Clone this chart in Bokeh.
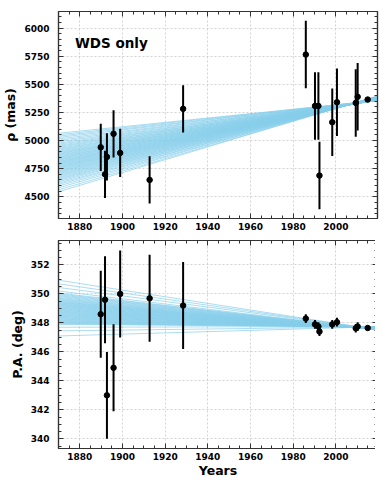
from bokeh.plotting import figure
from bokeh.layouts import column
from bokeh.models import LinearAxis, SingleIntervalTicker, Range1d, Label
from bokeh.embed import file_html
from bokeh.resources import INLINE

# ---- data ----
years = [1889.8, 1891.8, 1892.7, 1895.8, 1898.9, 1912.7, 1928.4, 1985.9,
         1990.2, 1991.8, 1992.3, 1998.3, 2000.5, 2009.3, 2010.2, 2014.9]
rho = [4940, 4700, 4855, 5060, 4890, 4650, 5282, 5765,
       5308, 5308, 4689, 5163, 5341, 5335, 5389, 5365]
rho_err = [210, 210, 210, 210, 215, 210, 210, 300,
           300, 300, 300, 300, 300, 300, 300, 15]
pa = [348.6, 349.6, 343.0, 344.9, 350.0, 349.7, 349.2, 348.3,
      347.9, 347.75, 347.4, 347.9, 348.05, 347.63, 347.75, 347.65]
pa_err = [3, 3, 3, 3, 3, 3, 3, 0.3,
          0.3, 0.3, 0.3, 0.3, 0.3, 0.3, 0.3, 0.05]

orbit_epochs = [1870, 2020]
rho_start = [4545, 4562, 4580, 4596, 4610, 4622, 4634, 4645, 4655, 4664,
             4673, 4682, 4690, 4698, 4706, 4714, 4721, 4728, 4735, 4742,
             4749, 4756, 4762, 4768, 4775, 4781, 4787, 4794, 4800, 4806,
             4812, 4818, 4825, 4831, 4838, 4844, 4851, 4857, 4864, 4871,
             4878, 4885, 4892, 4899, 4907, 4915, 4923, 4931, 4940, 4949,
             4958, 4968, 4978, 4990, 5002, 5015, 5028, 5040, 5052, 5065]
rho_end = [5400, 5396, 5398, 5392, 5395, 5389, 5393, 5386, 5390, 5384,
           5388, 5382, 5386, 5380, 5384, 5379, 5383, 5377, 5381, 5376,
           5380, 5374, 5378, 5373, 5377, 5371, 5375, 5370, 5374, 5369,
           5373, 5367, 5372, 5366, 5371, 5365, 5370, 5364, 5369, 5363,
           5368, 5362, 5367, 5361, 5366, 5360, 5365, 5359, 5364, 5358,
           5363, 5357, 5362, 5358, 5361, 5356, 5360, 5357, 5359, 5356]
pa_start = [347.1, 347.45, 347.7,
            347.9, 347.94, 347.98, 348.02, 348.06, 348.1, 348.14, 348.18, 348.22, 348.26,
            348.3, 348.34, 348.38, 348.42, 348.46, 348.5, 348.54, 348.58, 348.62, 348.66,
            348.7, 348.74, 348.78, 348.82, 348.86, 348.9, 348.94, 348.98, 349.02, 349.06,
            349.1, 349.14, 349.18, 349.22, 349.26, 349.3, 349.34, 349.38, 349.42, 349.46,
            349.5, 349.55, 349.6, 349.65, 349.7, 349.76, 349.82, 349.88, 349.94, 350.0, 350.06,
            350.2, 350.45, 350.7, 350.95]
pa_end = [347.74, 347.73, 347.75,
          347.72, 347.74, 347.71, 347.73, 347.70, 347.72, 347.69, 347.71, 347.68, 347.70,
          347.67, 347.69, 347.66, 347.68, 347.65, 347.67, 347.64, 347.66, 347.63, 347.65,
          347.62, 347.64, 347.61, 347.63, 347.60, 347.62, 347.59, 347.61, 347.58, 347.60,
          347.57, 347.59, 347.56, 347.58, 347.55, 347.57, 347.54, 347.56, 347.55, 347.57,
          347.53, 347.55, 347.54, 347.56, 347.52, 347.54, 347.53, 347.55, 347.52, 347.54, 347.53,
          347.52, 347.54, 347.53, 347.52]

FONT = "DejaVu Sans"
FRAME = "#333333"
BLUE = "#87CEEB"


def style(p, xint, xminor, yint, yminor, xlabel=None, ylabel=None):
    xa = p.below[0]
    ya = p.left[0]
    xa.ticker = SingleIntervalTicker(interval=xint, num_minor_ticks=xminor)
    ya.ticker = SingleIntervalTicker(interval=yint, num_minor_ticks=yminor)
    xa.axis_label = xlabel
    ya.axis_label = ylabel
    for ax in (xa, ya):
        ax.major_tick_in = 5
        ax.major_tick_out = 0
        ax.minor_tick_in = 3
        ax.minor_tick_out = 0
        ax.axis_line_color = FRAME
        ax.axis_line_width = 1.2
        ax.major_tick_line_color = FRAME
        ax.minor_tick_line_color = FRAME
        ax.major_label_text_font = FONT
        ax.major_label_text_font_style = "bold"
        ax.major_label_text_font_size = "9px"
        ax.major_label_text_color = "black"
        ax.axis_label_text_font = FONT
        ax.axis_label_text_font_style = "bold"
        ax.axis_label_text_font_size = "12.5px"
        ax.axis_label_text_color = "black"
    xa.major_label_standoff = 4
    ya.major_label_standoff = 9
    ya.axis_label_standoff = 3
    xa.axis_label_standoff = 0
    p.xgrid.ticker = xa.ticker
    p.ygrid.ticker = ya.ticker
    for loc, interval, nminor in (("above", xint, xminor), ("right", yint, yminor)):
        ax = LinearAxis(ticker=SingleIntervalTicker(interval=interval, num_minor_ticks=nminor))
        ax.major_label_text_font_size = "1px"
        ax.major_label_text_color = None
        ax.major_label_standoff = 0
        ax.major_tick_in = 5
        ax.major_tick_out = 0
        ax.minor_tick_in = 3
        ax.minor_tick_out = 0
        ax.axis_line_color = FRAME
        ax.axis_line_width = 1.2
        ax.major_tick_line_color = FRAME
        ax.minor_tick_line_color = FRAME
        p.add_layout(ax, loc)
    p.grid.grid_line_color = "#c8c8c8"
    p.grid.grid_line_dash = "2 2"
    p.grid.grid_line_width = 0.8
    p.outline_line_color = FRAME
    p.outline_line_width = 1.2
    p.background_fill_color = "white"
    p.border_fill_color = "white"


# ---- top panel: separation ----
p1 = figure(frame_width=319, frame_height=207,
            x_range=Range1d(1870, 2019.5), y_range=Range1d(4307, 6148),
            output_backend="svg", toolbar_location=None,
            min_border_left=52, min_border_right=4, min_border_top=11, min_border_bottom=14)
style(p1, 20, 4, 250, 5, ylabel="ρ (mas)")

p1.multi_line(xs=[orbit_epochs] * len(rho_start),
              ys=[[a, b] for a, b in zip(rho_start, rho_end)],
              line_color=BLUE, line_alpha=0.7, line_width=1)
p1.segment(x0=years, y0=[v - e for v, e in zip(rho, rho_err)],
           x1=years, y1=[v + e for v, e in zip(rho, rho_err)],
           line_color="black", line_width=2)
p1.scatter(years, rho, size=5.5, color="black")
p1.add_layout(Label(x=1877.7, y=5866, text="WDS only", text_font=FONT,
                    text_font_style="bold", text_font_size="13.5px",
                    text_color="black", text_baseline="alphabetic"))

# ---- bottom panel: position angle ----
p2 = figure(frame_width=319, frame_height=208,
            x_range=Range1d(1870, 2019.5), y_range=Range1d(339.33, 353.69),
            output_backend="svg", toolbar_location=None,
            min_border_left=52, min_border_right=4, min_border_top=8, min_border_bottom=20)
style(p2, 20, 4, 2, 4, xlabel="Years", ylabel="P.A. (deg)")

p2.multi_line(xs=[orbit_epochs] * len(pa_start),
              ys=[[a, b] for a, b in zip(pa_start, pa_end)],
              line_color=BLUE, line_alpha=0.7, line_width=1)
p2.segment(x0=years, y0=[v - e for v, e in zip(pa, pa_err)],
           x1=years, y1=[v + e for v, e in zip(pa, pa_err)],
           line_color="black", line_width=2)
p2.scatter(years, pa, size=5.5, color="black")

layout = column(p1, p2, spacing=0)
open("out.html", "w").write(file_html(layout, INLINE))
